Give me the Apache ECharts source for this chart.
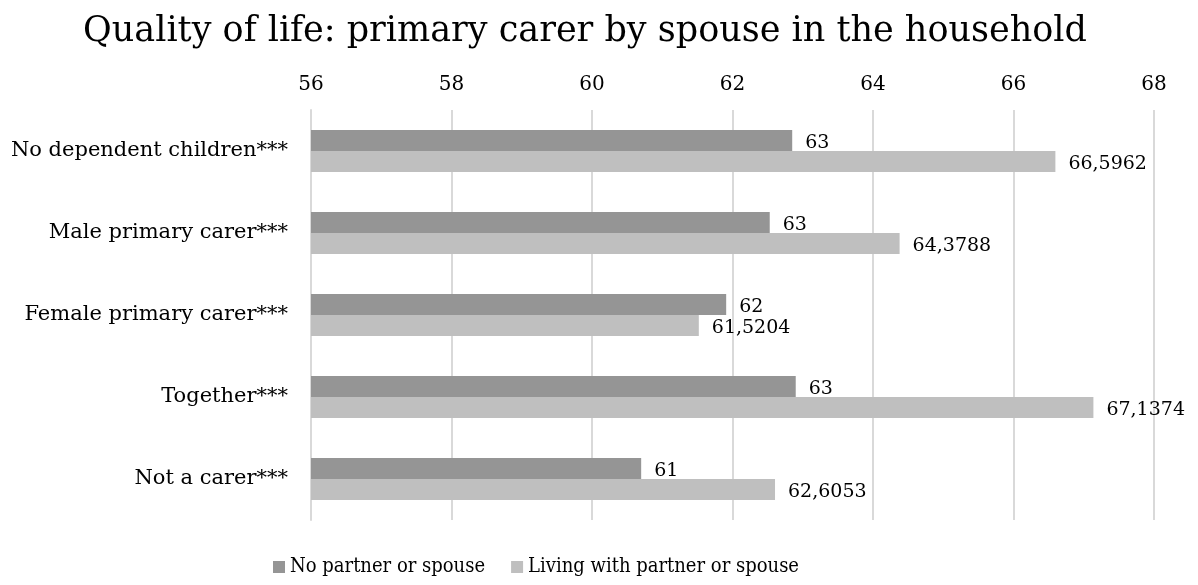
<!DOCTYPE html>
<html>
<head>
<meta charset="utf-8">
<script src="https://cdn.jsdelivr.net/npm/echarts@6/dist/echarts.min.js"></script>
<style>
  html, body { margin: 0; padding: 0; background: #ffffff; }
  #chart { width: 1198px; height: 585px; }
</style>
</head>
<body>
<div id="chart"></div>
<script>
// Quality of life scores by household situation
const categories = [
  'No dependent children***',
  'Male primary carer***',
  'Female primary carer***',
  'Together***',
  'Not a carer***'
];
const noPartner = [62.85, 62.53, 61.91, 62.90, 60.70];
const withPartner = [66.5962, 64.3788, 61.5204, 67.1374, 62.6053];
const seriesNames = ['No partner or spouse', 'Living with partner or spouse'];
const axisMin = 56, axisMax = 68, axisStep = 2;

const FONT = '"DejaVu Serif", serif';
const NARROW = '"DejaVu Serif Condensed", "Liberation Serif", serif';

const chart = echarts.init(document.getElementById('chart'));

function labelFor(decimals) {
  return {
    show: true,
    position: 'right',
    distance: 13,
    offset: [0, 3],
    color: '#000',
    fontFamily: FONT,
    fontSize: 19,
    formatter: p => (decimals === 0 ? Math.round(p.value).toString() : p.value.toFixed(decimals)).replace('.', ',')
  };
}

chart.setOption({
  animation: false,
  title: {
    text: 'Quality of life: primary carer by spouse in the household',
    left: 580,
    textAlign: 'center',
    top: 9,
    textStyle: { fontFamily: FONT, fontWeight: 'normal', fontSize: 35, color: '#000' }
  },
  legend: {
    left: 268,
    bottom: 3,
    itemWidth: 12,
    itemHeight: 12,
    itemGap: 26,
    icon: 'rect',
    textStyle: { fontFamily: NARROW, fontSize: 20, color: '#000' },
    data: seriesNames
  },
  grid: { left: 311, right: 44, top: 110, bottom: 65, containLabel: false },
  xAxis: {
    type: 'value',
    position: 'top',
    min: axisMin,
    max: axisMax,
    interval: axisStep,
    axisLine: { show: false },
    axisTick: { show: false },
    axisLabel: { fontFamily: FONT, fontSize: 20, color: '#000', margin: 15 },
    splitLine: { show: true, lineStyle: { color: '#d9d9d9', width: 2 } }
  },
  yAxis: {
    type: 'category',
    inverse: true,
    data: categories,
    axisLine: { show: true, lineStyle: { color: '#d9d9d9', width: 2 } },
    axisTick: { show: false },
    axisLabel: { fontFamily: FONT, fontSize: 21, color: '#000', margin: 23 }
  },
  series: [
    {
      name: seriesNames[0],
      type: 'bar',
      data: noPartner,
      barWidth: 21,
      barGap: '0%',
      itemStyle: { color: '#959595' },
      label: labelFor(0)
    },
    {
      name: seriesNames[1],
      type: 'bar',
      data: withPartner,
      barWidth: 21,
      barGap: '0%',
      itemStyle: { color: '#bfbfbf' },
      label: labelFor(4)
    }
  ]
});
</script>
</body>
</html>
